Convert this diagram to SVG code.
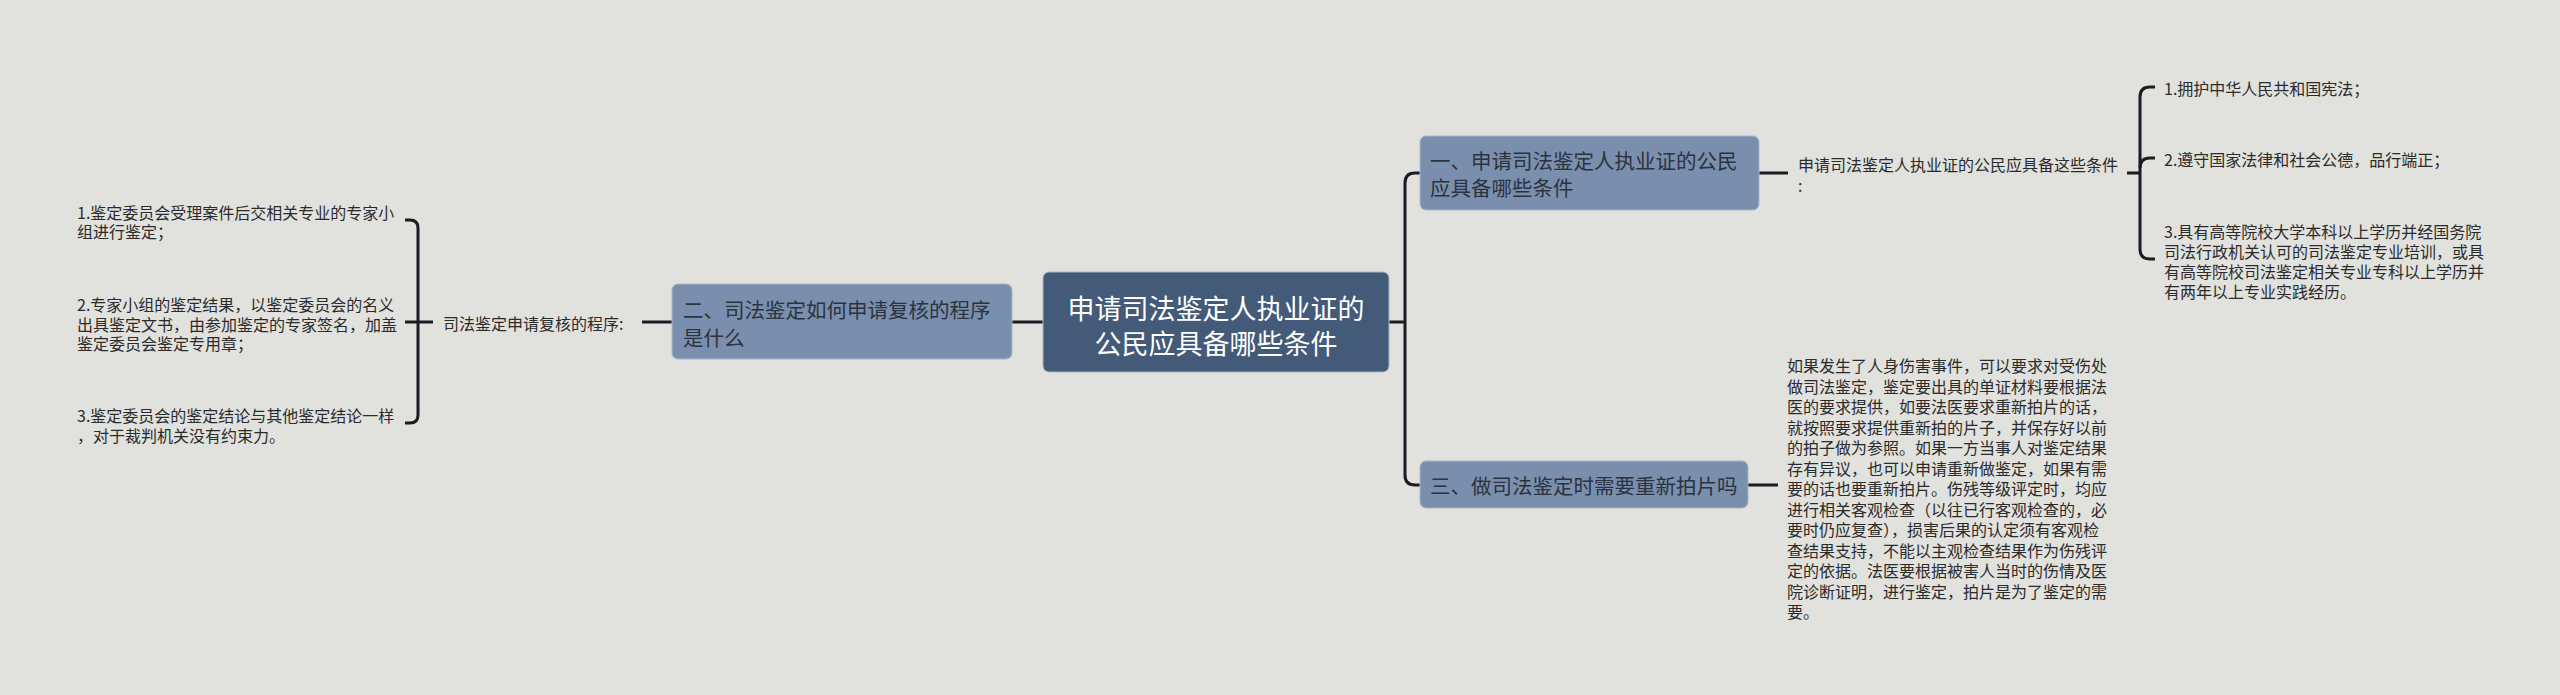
<svg xmlns="http://www.w3.org/2000/svg" width="2560" height="695" viewBox="0 0 2560 695">
<style>
.bg{fill:#e1e1dd}
.root rect{fill:#435a78;stroke:#a9b6c8;stroke-width:1}
.root text{fill:#ffffff;font-size:27px}
.sub rect{fill:#7a8ead;stroke:#a9b6c8;stroke-width:1}
.sub text{fill:#2b3340;font-size:20.5px}
text{font-family:"Noto Sans CJK SC","Microsoft YaHei",sans-serif;dominant-baseline:central}
.leaf text{fill:#2b2b2b;font-size:16px}
.conn path{fill:none;stroke:#1b1b24;stroke-width:3;stroke-linecap:butt}
</style>
<rect class="bg" x="0" y="0" width="2560" height="695"/>
<g class="conn">
<path d="M1043 322 H1012"/>
<path d="M672 322 H642"/>
<path d="M433 322 H405"/>
<path d="M405 220 H410 Q418 220 418 228 V415 Q418 423 410 423 H405"/>
<path d="M1389 322 H1405"/>
<path d="M1420 173 H1415 Q1405 173 1405 183 V475 Q1405 485 1415 485 H1420"/>
<path d="M1759 173 H1788"/>
<path d="M2127 173 H2140"/>
<path d="M2155 87 H2150 Q2140 87 2140 97 V249 Q2140 259 2150 259 H2155"/>
<path d="M2140 168 Q2140 158 2150 158 H2155"/>
<path d="M1748 485 H1778"/>
</g>
<g id="root" class="root">
<rect x="1043" y="272" width="346" height="100" rx="6"/>
<text x="1216" y="307" text-anchor="middle">申请司法鉴定人执业证的</text>
<text x="1216" y="342" text-anchor="middle">公民应具备哪些条件</text>
</g>
<g id="n2" class="sub">
<rect x="672" y="284" width="340" height="75" rx="6"/>
<text x="683" y="309">二、司法鉴定如何申请复核的程序</text>
<text x="683" y="337">是什么</text>
</g>
<g id="n2-label" class="leaf">
<text x="443" y="323">司法鉴定申请复核的程序:</text>
</g>
<g id="n2-1" class="leaf">
<text x="77" y="212">1.鉴定委员会受理案件后交相关专业的专家小</text>
<text x="77" y="231">组进行鉴定；</text>
</g>
<g id="n2-2" class="leaf">
<text x="77" y="304">2.专家小组的鉴定结果，以鉴定委员会的名义</text>
<text x="77" y="324">出具鉴定文书，由参加鉴定的专家签名，加盖</text>
<text x="77" y="343">鉴定委员会鉴定专用章；</text>
</g>
<g id="n2-3" class="leaf">
<text x="77" y="415">3.鉴定委员会的鉴定结论与其他鉴定结论一样</text>
<text x="77" y="435">，对于裁判机关没有约束力。</text>
</g>
<g id="n1" class="sub">
<rect x="1420" y="136" width="339" height="74" rx="6"/>
<text x="1430" y="160">一、申请司法鉴定人执业证的公民</text>
<text x="1430" y="187">应具备哪些条件</text>
</g>
<g id="n1-label" class="leaf">
<text x="1798" y="164">申请司法鉴定人执业证的公民应具备这些条件</text>
<text x="1798" y="185">:</text>
</g>
<g id="n1-1" class="leaf">
<text x="2164" y="88">1.拥护中华人民共和国宪法；</text>
</g>
<g id="n1-2" class="leaf">
<text x="2164" y="159">2.遵守国家法律和社会公德，品行端正；</text>
</g>
<g id="n1-3" class="leaf">
<text x="2164" y="231">3.具有高等院校大学本科以上学历并经国务院</text>
<text x="2164" y="251">司法行政机关认可的司法鉴定专业培训，或具</text>
<text x="2164" y="271">有高等院校司法鉴定相关专业专科以上学历并</text>
<text x="2164" y="291">有两年以上专业实践经历。</text>
</g>
<g id="n3" class="sub">
<rect x="1420" y="461" width="328" height="47" rx="6"/>
<text x="1430" y="485">三、做司法鉴定时需要重新拍片吗</text>
</g>
<g id="n3-1" class="leaf">
<text x="1787" y="365">如果发生了人身伤害事件，可以要求对受伤处</text>
<text x="1787" y="385.5">做司法鉴定，鉴定要出具的单证材料要根据法</text>
<text x="1787" y="406">医的要求提供，如要法医要求重新拍片的话，</text>
<text x="1787" y="426.5">就按照要求提供重新拍的片子，并保存好以前</text>
<text x="1787" y="447">的拍子做为参照。如果一方当事人对鉴定结果</text>
<text x="1787" y="467.5">存有异议，也可以申请重新做鉴定，如果有需</text>
<text x="1787" y="488">要的话也要重新拍片。伤残等级评定时，均应</text>
<text x="1787" y="508.5">进行相关客观检查（以往已行客观检查的，必</text>
<text x="1787" y="529">要时仍应复查），损害后果的认定须有客观检</text>
<text x="1787" y="549.5">查结果支持，不能以主观检查结果作为伤残评</text>
<text x="1787" y="570">定的依据。法医要根据被害人当时的伤情及医</text>
<text x="1787" y="590.5">院诊断证明，进行鉴定，拍片是为了鉴定的需</text>
<text x="1787" y="611">要。</text>
</g>
</svg>
